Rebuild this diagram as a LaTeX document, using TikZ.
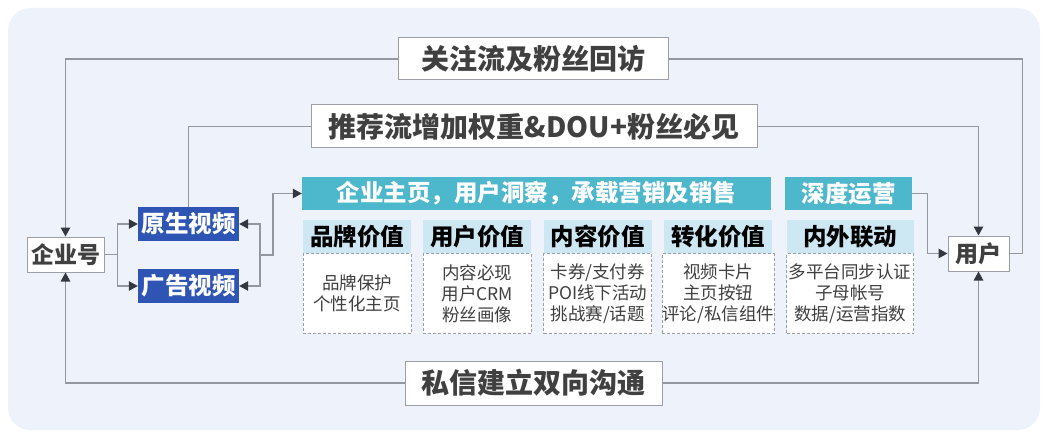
\documentclass[tikz,border=0pt]{standalone}
\usepackage{fontspec}
\setmainfont{Noto Sans CJK SC}
\usetikzlibrary{positioning, arrows.meta}
\definecolor{pagebg}{HTML}{EEF3FB}
\definecolor{boxgray}{HTML}{9C9FA6}
\definecolor{linegray}{HTML}{9398A0}
\definecolor{tipdark}{HTML}{333840}
\definecolor{labelgray}{HTML}{404040}
\definecolor{videoblue}{HTML}{2F55B4}
\definecolor{tealbar}{HTML}{4DB7CC}
\definecolor{headblue}{HTML}{CDE7F3}

\begin{document}
\begin{tikzpicture}[x=1pt, y=1pt,
  >={Triangle[length=9pt, width=9.5pt, color=tipdark]},
  flowbox/.style={draw=boxgray, fill=white, line width=1pt, inner sep=0pt,
    text=labelgray, font=\fontsize{28}{32}\selectfont\bfseries},
  endbox/.style={draw=boxgray, fill=white, line width=1pt, inner sep=0pt,
    minimum height=35pt, text=labelgray, font=\fontsize{23}{26}\selectfont\bfseries},
  bluebox/.style={fill=videoblue, inner sep=0pt, minimum width=101pt,
    minimum height=34pt, text=white, font=\fontsize{23.5}{26}\selectfont\bfseries},
  tealbox/.style={fill=tealbar, inner sep=0pt, minimum height=33pt,
    text=white, font=\fontsize{23.5}{26}\selectfont\bfseries},
  colhead/.style={fill=headblue, inner sep=0pt, minimum width=108pt,
    minimum height=33pt, text=black, font=\fontsize{23.5}{26}\selectfont\bfseries},
  colbody/.style={draw=boxgray, dash pattern=on 3pt off 2pt, fill=white,
    line width=0.9pt, inner sep=0pt, minimum width=108pt, minimum height=80pt,
    align=center, text=labelgray, font=\fontsize{17.5}{21}\selectfont},
  conn/.style={draw=linegray, line width=1.1pt}]

  \useasboundingbox (0,0) rectangle (1048,437);
  \fill[pagebg, rounded corners=22pt] (8,7) rectangle (1040,429);

  % feedback loops
  \node[flowbox, minimum width=270pt, minimum height=42pt] (fans) at (533,378) {关注流及粉丝回访};
  \node[flowbox, minimum width=446pt, minimum height=43pt] (recom) at (534,310.5) {推荐流增加权重\&DOU+粉丝必见};
  \node[flowbox, minimum width=257pt, minimum height=44pt] (priv) at (533.5,54) {私信建立双向沟通};

  % ends
  \node[endbox, minimum width=77pt] (firm) at (65.5,182.5) {企业号};
  \node[endbox, minimum width=61pt] (user) at (978.5,183.5) {用户};

  % videos
  \node[bluebox] (native) at (188.5,213) {原生视频};
  \node[bluebox] (advert) at (188.5,151) {广告视频};

  % banners
  \node[tealbox, minimum width=469pt] (homepage) at (536.5,243.5) {企业主页，用户洞察，承载营销及销售};
  \node[tealbox, minimum width=127pt] (deepops) at (848.5,243.5) {深度运营};

  % value columns
  \node[colhead] (brand) at (357,200.5) {品牌价值};
  \node[colhead, right=12pt of brand] (uservalue) {用户价值};
  \node[colhead, right=12pt of uservalue] (content) {内容价值};
  \node[colhead, right=12pt of content] (convert) {转化价值};
  \node[colhead, minimum width=127pt, right=14pt of convert] (linkage) {内外联动};

  \node[colbody, below=0pt of brand] (brandbody) {品牌保护\\个性化主页};
  \node[colbody, below=0pt of uservalue] (userbody) {内容必现\\用户CRM\\粉丝画像};
  \node[colbody, below=0pt of content] (contentbody) {卡券/支付券\\POI线下活动\\挑战赛/话题};
  \node[colbody, below=0pt of convert] (convertbody) {视频卡片\\主页按钮\\评论/私信组件};
  \node[colbody, minimum width=127pt, below=0pt of linkage] (linkagebody) {多平台同步认证\\子母帐号\\数据/运营指数};

  % CONNECTORS

  \draw[conn, ->] (fans.west) -| (firm.north);
  \draw[conn] (user.east) -- ++(13,0) |- (fans.east);
  \draw[conn] (recom.west) -| (native.north);
  \draw[conn, ->] (recom.east) -| (user.north);
  \draw[conn, ->] (priv.west) -| (firm.south);
  \draw[conn, ->] (priv.east) -| (user.south);

  \coordinate[right=13pt of firm.east] (split);
  \draw[conn] (firm.east) -- (split);
  \draw[conn, ->] (split) |- (native.west);
  \draw[conn, ->] (split) |- (advert.west);

  \coordinate (merge) at (260,182);
  \draw[conn, ->] (merge) |- (native.east);
  \draw[conn, ->] (merge) |- (advert.east);
  \draw[conn, ->] (merge) -- ++(13,0) |- (homepage.west);

  \draw[conn, ->] (deepops.east) -- ++(15,0) |- (user.west);

\end{tikzpicture}
\end{document}
